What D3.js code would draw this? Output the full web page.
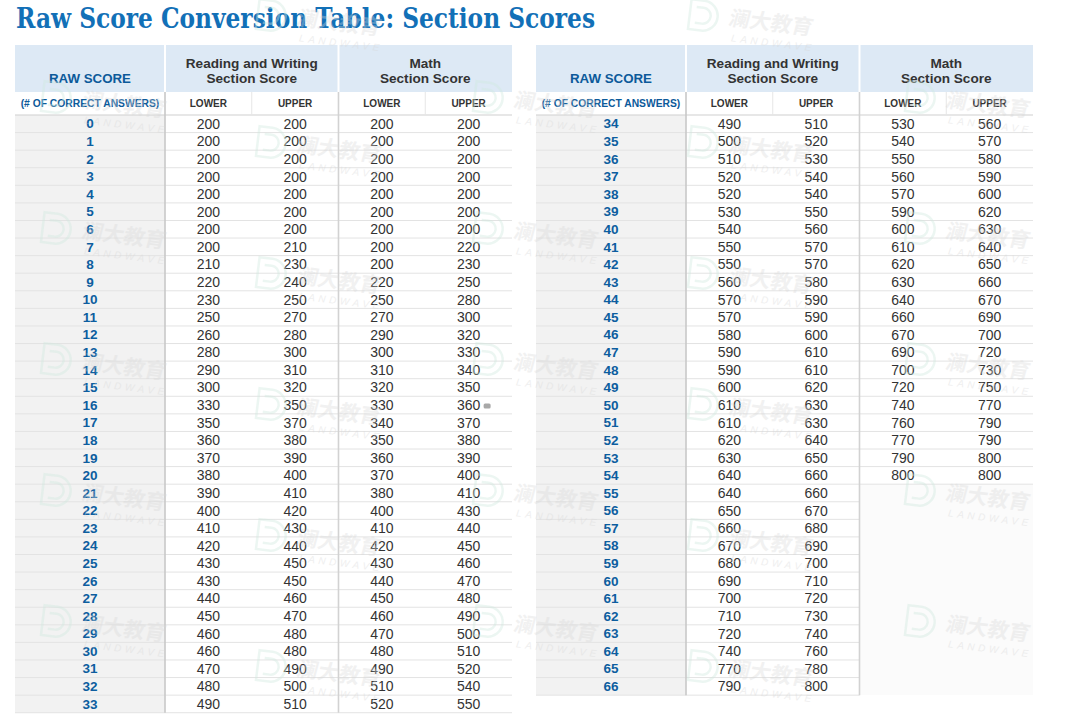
<!DOCTYPE html>
<html>
<head>
<meta charset="UTF-8">
<style>
    body { margin: 0; background: #ffffff; }
    svg { display: block; }
    .val { font-family: "Liberation Sans", Arial, sans-serif; font-size: 14px; fill: #333333; }
    .raw { font-family: "Liberation Sans", Arial, sans-serif; font-size: 13.5px; font-weight: bold; fill: #0d5e9f; }
    .hd { font-family: "Liberation Sans", Arial, sans-serif; font-weight: bold; }
</style>
</head>
<body>
<svg id="chart" width="1080" height="724"></svg>
<script src="https://cdn.jsdelivr.net/npm/d3@7/dist/d3.min.js"></script>
<script>
// ---- data: left half (raw 0-33) ----
const rawLeft = [0,1,2,3,4,5,6,7,8,9,10,11,12,13,14,15,16,17,18,19,20,21,22,23,24,25,26,27,28,29,30,31,32,33];
const rwLowerLeft = [200,200,200,200,200,200,200,200,210,220,230,250,260,280,290,300,330,350,360,370,380,390,400,410,420,430,430,440,450,460,460,470,480,490];
const rwUpperLeft = [200,200,200,200,200,200,200,210,230,240,250,270,280,300,310,320,350,370,380,390,400,410,420,430,440,450,450,460,470,480,480,490,500,510];
const mathLowerLeft = [200,200,200,200,200,200,200,200,200,220,250,270,290,300,310,320,330,340,350,360,370,380,400,410,420,430,440,450,460,470,480,490,510,520];
const mathUpperLeft = [200,200,200,200,200,200,200,220,230,250,280,300,320,330,340,350,360,370,380,390,400,410,430,440,450,460,470,480,490,500,510,520,540,550];

// ---- data: right half (raw 34-66), math stops at 54 ----
const rawRight = [34,35,36,37,38,39,40,41,42,43,44,45,46,47,48,49,50,51,52,53,54,55,56,57,58,59,60,61,62,63,64,65,66];
const rwLowerRight = [490,500,510,520,520,530,540,550,550,560,570,570,580,590,590,600,610,610,620,630,640,640,650,660,670,680,690,700,710,720,740,770,790];
const rwUpperRight = [510,520,530,540,540,550,560,570,570,580,590,590,600,610,610,620,630,630,640,650,660,660,670,680,690,700,710,720,730,740,760,780,800];
const mathLowerRight = [530,540,550,560,570,590,600,610,620,630,640,660,670,690,700,720,740,760,770,790,800];
const mathUpperRight = [560,570,580,590,600,620,630,640,650,660,670,690,700,720,730,750,770,790,790,800,800];

const titleText = "Raw Score Conversion Table: Section Scores";
const subCols = ["rwLo", "rwUp", "mLo", "mUp"];
const subLabels = ["LOWER", "UPPER", "LOWER", "UPPER"];

const svg = d3.select("#chart");
const rowH = 17.58, bodyTop = 115, tableW = 497, rawW = 150;

svg.append("text")
    .attr("x", 16).attr("y", 28)
    .attr("font-family", "'DejaVu Serif', serif")
    .attr("font-weight", "bold")
    .attr("font-size", 27)
    .attr("fill", "#1270b7")
    .attr("textLength", 579)
    .attr("lengthAdjust", "spacingAndGlyphs")
    .text(titleText);

function drawTable(x0, raws, rwLo, rwUp, mLo, mUp) {
    const g = svg.append("g");
    const y = d3.scaleBand().domain(raws).range([bodyTop, bodyTop + raws.length * rowH]);
    const x = d3.scaleBand().domain(subCols).range([x0 + rawW, x0 + tableW]);
    const bottom = y.range()[1];
    const cols = { rwLo: rwLo, rwUp: rwUp, mLo: mLo, mUp: mUp };
    const mathRows = raws.slice(0, mLo.length);
    const mathBottom = y(mathRows[mathRows.length - 1]) + y.bandwidth();

    // faint fill under the empty math cells
    if (mathRows.length < raws.length) {
        g.append("rect").attr("x", x("mLo")).attr("y", mathBottom)
            .attr("width", x0 + tableW - x("mLo")).attr("height", bottom - mathBottom)
            .attr("fill", "#fbfbfb");
    }

    // header band
    g.append("rect").attr("x", x0).attr("y", 45).attr("width", tableW).attr("height", 47).attr("fill", "#dde9f5");
    [x0 + rawW, x("mLo")].forEach(function(xx) {
        g.append("line").attr("x1", xx).attr("x2", xx).attr("y1", 45).attr("y2", 92)
            .attr("stroke", "#ffffff").attr("stroke-width", 2);
    });

    // raw column background
    g.append("rect").attr("x", x0).attr("y", bodyTop).attr("width", rawW).attr("height", bottom - bodyTop).attr("fill", "#f2f2f2");

    // row lines
    g.selectAll("line.row").data(raws).enter().append("line")
        .attr("class", "row")
        .attr("x1", x0)
        .attr("x2", function(d, i) { return i < mLo.length ? x0 + tableW : x("mLo"); })
        .attr("y1", function(d) { return y(d) + y.bandwidth(); })
        .attr("y2", function(d) { return y(d) + y.bandwidth(); })
        .attr("stroke", "#e3e3e3").attr("stroke-width", 1);

    // sub header
    g.append("line").attr("x1", x0).attr("x2", x0 + tableW).attr("y1", bodyTop).attr("y2", bodyTop)
        .attr("stroke", "#cfcfcf").attr("stroke-width", 1);
    ["rwUp", "mUp"].forEach(function(c) {
        g.append("line").attr("x1", x(c)).attr("x2", x(c)).attr("y1", 92).attr("y2", bodyTop)
            .attr("stroke", "#e6e6e6").attr("stroke-width", 1);
    });
    g.append("line").attr("x1", x0 + rawW).attr("x2", x0 + rawW).attr("y1", 92).attr("y2", bottom)
        .attr("stroke", "#c8c8c8").attr("stroke-width", 1.6);
    g.append("line").attr("x1", x("mLo")).attr("x2", x("mLo")).attr("y1", 92).attr("y2", bottom)
        .attr("stroke", "#d2d2d2").attr("stroke-width", 1.6);

    // header texts
    g.append("text").attr("class", "hd").attr("x", x0 + rawW / 2).attr("y", 82.5)
        .attr("text-anchor", "middle").attr("font-size", 13.3).attr("fill", "#0c5a9a").text("RAW SCORE");
    g.append("text").attr("class", "hd").attr("x", x0 + rawW / 2).attr("y", 107)
        .attr("text-anchor", "middle").attr("font-size", 10.3).attr("fill", "#0c5a9a").text("(# OF CORRECT ANSWERS)");
    [["Reading and Writing", "rwUp"], ["Math", "mUp"]].forEach(function(h) {
        const cx = x(h[1]);
        g.append("text").attr("class", "hd").attr("x", cx).attr("y", 67.5)
            .attr("text-anchor", "middle").attr("font-size", 13.6).attr("fill", "#333333").text(h[0]);
        g.append("text").attr("class", "hd").attr("x", cx).attr("y", 82.5)
            .attr("text-anchor", "middle").attr("font-size", 13.6).attr("fill", "#333333").text("Section Score");
    });
    subCols.forEach(function(c, i) {
        g.append("text").attr("class", "hd").attr("x", x(c) + x.bandwidth() / 2).attr("y", 107)
            .attr("text-anchor", "middle").attr("font-size", 10).attr("fill", "#333333").text(subLabels[i]);
    });

    // raw numbers
    g.selectAll("text.raw").data(raws).enter().append("text")
        .attr("class", "raw")
        .attr("x", x0 + rawW / 2)
        .attr("y", function(d) { return y(d) + y.bandwidth() / 2 + 4.7; })
        .attr("text-anchor", "middle")
        .text(function(d) { return d; });

    // values
    subCols.forEach(function(c) {
        g.selectAll("text.v-" + c).data(cols[c]).enter().append("text")
            .attr("class", "val v-" + c)
            .attr("x", x(c) + x.bandwidth() / 2)
            .attr("y", function(d, i) { return y(raws[i]) + y.bandwidth() / 2 + 5; })
            .attr("text-anchor", "middle")
            .text(function(d) { return d; });
    });
    return { x: x, y: y };
}

const left = drawTable(15, rawLeft, rwLowerLeft, rwUpperLeft, mathLowerLeft, mathUpperLeft);
drawTable(536, rawRight, rwLowerRight, rwUpperRight, mathLowerRight, mathUpperRight);

// little grey mark after 360 (raw 16, math upper)
svg.append("rect")
    .attr("x", left.x("mUp") + left.x.bandwidth() / 2 + 15)
    .attr("y", left.y(16) + left.y.bandwidth() / 2 - 1.5)
    .attr("width", 7).attr("height", 5).attr("rx", 1.5)
    .attr("fill", "#a8a8a8");

// watermark, very faint
const wmA = [[43, 78], [475, 78], [907, 78], [43, 209], [475, 209], [907, 209], [43, 340], [475, 340], [907, 340], [43, 471], [475, 471], [907, 471], [43, 602], [475, 602], [907, 602]];
const wmB = [[258, -4], [690, -4], [258, 123], [690, 123], [258, 254], [690, 254], [258, 385], [690, 385], [258, 516], [690, 516], [258, 647], [690, 647]];
const wm = svg.append("g").attr("pointer-events", "none");
wmA.concat(wmB).forEach(function(p) {
    const w = wm.append("g").attr("transform", "translate(" + p[0] + "," + p[1] + ") rotate(7)");
    w.append("path")
        .attr("d", "M2,3 H15 A15,15 0 0 1 15,33 H2 Z M8,10 H15 A8,8 0 0 1 15,26 H8")
        .attr("fill", "none").attr("stroke", "#cfe9df").attr("stroke-width", 2.5).attr("opacity", 0.4);
    w.append("text").attr("x", 44).attr("y", 24)
        .attr("font-family", "'Noto Sans CJK SC', sans-serif").attr("font-weight", "bold")
        .attr("font-size", 21).attr("fill", "#d8d8d8").attr("opacity", 0.35)
        .attr("transform", "skewX(-8)")
        .text("澜大教育");
    w.append("text").attr("x", 46).attr("y", 40)
        .attr("font-family", "'Liberation Sans', sans-serif").attr("font-style", "italic")
        .attr("font-size", 10).attr("letter-spacing", 3.6).attr("fill", "#d8d8d8").attr("opacity", 0.4)
        .text("LANDWAVE");
});
</script>
</body>
</html>
